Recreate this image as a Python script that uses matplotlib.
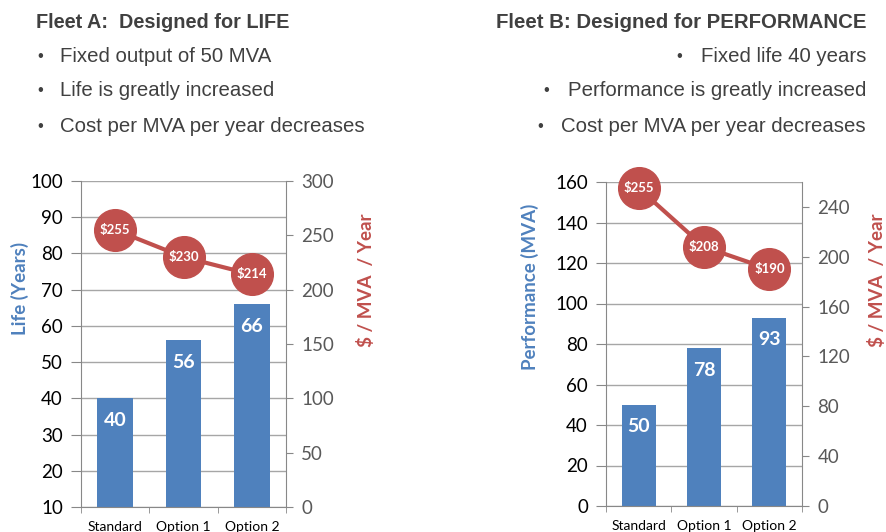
import numpy as np
import matplotlib
matplotlib.use('Agg')
import matplotlib.pyplot as plt

# data
categories = ['Standard', 'Option 1', 'Option 2']
life_years = [40, 56, 66]
life_cost = [255, 230, 214]
perf_mva = [50, 78, 93]
perf_cost = [255, 208, 190]

left_bullets = ['Fixed output of 50 MVA', 'Life is greatly increased',
                'Cost per MVA per year decreases']
right_bullets = ['Fixed life 40 years', 'Performance is greatly increased',
                 'Cost per MVA per year decreases']

BLUE = '#4F81BD'
RED = '#C0504D'
GREY_TXT = '#404040'
W, H = 887, 532

plt.rcParams['font.family'] = ['Lato', 'DejaVu Sans']

fig = plt.figure(figsize=(W / 100, H / 100), dpi=100)


def px_axes(x0, y0, x1, y1):
    # pixel box (top-left origin) -> figure axes
    return fig.add_axes([x0 / W, 1 - y1 / H, (x1 - x0) / W, (y1 - y0) / H])


def draw_chart(ax, bars, cost, ylim, yticks, y2lim, y2ticks):
    x = np.arange(len(categories))
    ax.bar(x, bars, width=0.52, color=BLUE, zorder=2)
    ax.set_xlim(-0.5, len(categories) - 0.5)
    ax.set_ylim(*ylim)
    ax.set_yticks(yticks)
    ax.grid(axis='y', color='#A6A6A6', linewidth=1.0, zorder=0)
    ax.set_axisbelow(True)
    ax.set_xticks(x)
    ax.set_xticklabels(categories, fontsize=10, color='black')
    ax.set_xticks(np.arange(len(categories) + 1) - 0.5, minor=True)
    ax.tick_params(axis='x', which='major', length=0, pad=10)
    ax.tick_params(axis='x', which='minor', length=4, color='#888888')
    ax.tick_params(axis='y', length=7, color='#888888', labelsize=13.5,
                   labelcolor='black', pad=6)
    for s in ['left', 'right', 'bottom']:
        ax.spines[s].set_color('#888888')
    ax.spines['top'].set_visible(False)
    for i, v in enumerate(bars):
        ax.annotate(str(v), (i, v), xytext=(0, -16), textcoords='offset points',
                    ha='center', va='center', color='white',
                    fontsize=14, fontweight='bold', zorder=4)

    ax2 = ax.twinx()
    ax2.plot(x, cost, color=RED, linewidth=3, marker='o', markersize=30,
             zorder=3, clip_on=False)
    ax2.set_ylim(*y2lim)
    ax2.set_yticks(y2ticks)
    ax2.tick_params(axis='y', length=5, color='#888888', labelsize=13.5,
                    labelcolor='#595959', pad=6)
    for s in ax2.spines.values():
        s.set_visible(False)
    for i, v in enumerate(cost):
        ax2.text(i, v, '$%d' % v, ha='center', va='center', color='white',
                 fontsize=9.5, fontweight='bold', zorder=5, clip_on=False)
    return ax2


axA = px_axes(81, 181, 286, 507)
draw_chart(axA, life_years, life_cost, (10, 100), np.arange(10, 101, 10),
           (0, 300), np.arange(0, 301, 50))

axB = px_axes(606, 182, 802, 506)
draw_chart(axB, perf_mva, perf_cost, (0, 160), np.arange(0, 161, 20),
           (0, 260), np.arange(0, 241, 40))

# axis titles
fig.text(20 / W, 1 - 288 / H, 'Life (Years)', rotation=90, ha='center',
         va='center', color=BLUE, fontsize=13.5, fontweight='bold')
fig.text(366 / W, 1 - 280 / H, '$ / MVA  / Year', rotation=90, ha='center',
         va='center', color=RED, fontsize=13.5, fontweight='bold')
fig.text(530 / W, 1 - 287 / H, 'Performance (MVA)', rotation=90, ha='center',
         va='center', color=BLUE, fontsize=13.5, fontweight='bold')
fig.text(877 / W, 1 - 280 / H, '$ / MVA  / Year', rotation=90, ha='center',
         va='center', color=RED, fontsize=13.5, fontweight='bold')

# header text
hfont = ['Liberation Sans', 'DejaVu Sans']
fig.text(36 / W, 1 - 22 / H, 'Fleet A:  Designed for LIFE', ha='left',
         va='center', fontsize=14.3, fontweight='bold', color=GREY_TXT,
         family=hfont)
fig.text(867 / W, 1 - 22 / H, 'Fleet B: Designed for PERFORMANCE', ha='right',
         va='center', fontsize=14.7, fontweight='bold', color=GREY_TXT,
         family=hfont)

rows = [57, 91, 126]
for y, txt in zip(rows, left_bullets):
    fig.text(37 / W, 1 - y / H, '\u2022', ha='left', va='center',
             fontsize=12, color=GREY_TXT, family=hfont)
    fig.text(60 / W, 1 - y / H, txt, ha='left', va='center',
             fontsize=14.7, color=GREY_TXT, family=hfont)

fig.canvas.draw()
renderer = fig.canvas.get_renderer()
for y, txt in zip(rows, right_bullets):
    t = fig.text(866 / W, 1 - y / H, txt, ha='right', va='center',
                 fontsize=14.7, color=GREY_TXT, family=hfont)
    bb = t.get_window_extent(renderer)
    fig.text((bb.x0 - 24) / W, 1 - y / H, '\u2022', ha='left', va='center',
             fontsize=12, color=GREY_TXT, family=hfont)

fig.savefig('out.png', dpi=100)
